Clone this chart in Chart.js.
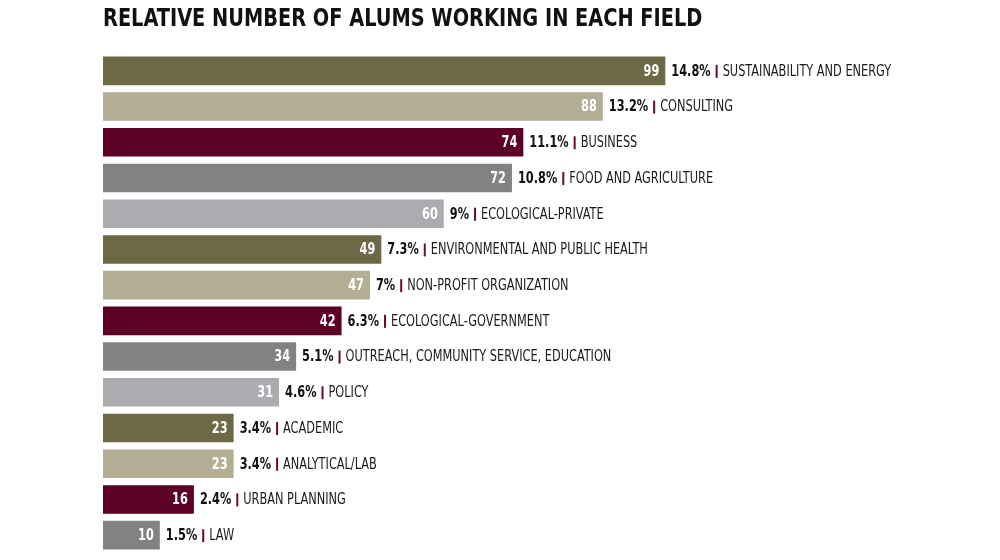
<!DOCTYPE html>
<html>
<head>
<meta charset="utf-8">
<script src="https://cdn.jsdelivr.net/npm/chart.js@4/dist/chart.umd.min.js"></script>
<style>
  html, body { margin: 0; padding: 0; background: #fff; }
  #wrap { width: 1000px; height: 560px; position: relative; }
  h1 { position: absolute; left: 103px; top: 3px; margin: 0; white-space: nowrap; font-family: 'Liberation Sans Narrow', 'DejaVu Sans Condensed', sans-serif; font-weight: bold; font-size: 25px; color: #111; transform: scaleX(0.86); transform-origin: left top; }
</style>
</head>
<body>
<div id="wrap">
  <h1>RELATIVE NUMBER OF ALUMS WORKING IN EACH FIELD</h1>
  <canvas id="myChart" width="1000" height="560"></canvas>
</div>
<script>
// fields, counts and shares
let fields = ['SUSTAINABILITY AND ENERGY', 'CONSULTING', 'BUSINESS', 'FOOD AND AGRICULTURE',
  'ECOLOGICAL-PRIVATE', 'ENVIRONMENTAL AND PUBLIC HEALTH', 'NON-PROFIT ORGANIZATION',
  'ECOLOGICAL-GOVERNMENT', 'OUTREACH, COMMUNITY SERVICE, EDUCATION', 'POLICY', 'ACADEMIC',
  'ANALYTICAL/LAB', 'URBAN PLANNING', 'LAW'];
let counts = [99, 88, 74, 72, 60, 49, 47, 42, 34, 31, 23, 23, 16, 10];
let shares = ['14.8%', '13.2%', '11.1%', '10.8%', '9%', '7.3%', '7%', '6.3%', '5.1%', '4.6%', '3.4%', '3.4%', '2.4%', '1.5%'];

const palette = ['#6d6946', '#b4ae94', '#5d0025', '#828285', '#abacaf'];
const FONT = "'Liberation Sans Narrow', 'DejaVu Sans Condensed', sans-serif";
const SX = 0.84;

// draw squeezed text, returns drawn width
function squeeze(c, txt, x, y, align) {
  let w = c.measureText(txt).width * SX;
  let left = align === 'right' ? x - w : x;
  c.save();
  c.translate(left, y);
  c.scale(SX, 1);
  c.textAlign = 'left';
  c.fillText(txt, 0, 0);
  c.restore();
  return w;
}

const barLabels = {
  id: 'barLabels',
  afterDatasetsDraw(chart) {
    const c = chart.ctx;
    const meta = chart.getDatasetMeta(0);
    c.save();
    c.textBaseline = 'middle';
    meta.data.forEach(function(bar, i) {
      let x = bar.x, y = bar.y + 1;
      c.font = 'bold 15px ' + FONT;
      c.fillStyle = '#fff';
      squeeze(c, String(counts[i]), x - 6, y, 'right');
      c.fillStyle = '#111';
      let w = squeeze(c, shares[i], x + 6, y, 'left');
      let px = x + 6 + w + 5;
      c.fillStyle = '#6a0a2c';
      c.fillRect(px, y - 7, 2, 13);
      c.font = '15px ' + FONT;
      c.fillStyle = '#1a1a1a';
      squeeze(c, fields[i], px + 7, y, 'left');
    });
    c.restore();
  }
};

const ctx = document.getElementById('myChart');
new Chart(ctx, {
  type: 'bar',
  data: {
    labels: fields,
    datasets: [{
      data: counts,
      backgroundColor: counts.map((v, i) => palette[i % palette.length]),
      borderWidth: 0,
      categoryPercentage: 1,
      barPercentage: 0.8
    }]
  },
  options: {
    indexAxis: 'y',
    responsive: false,
    animation: false,
    layout: { padding: { left: 103, right: 329, top: 53, bottom: 7 } },
    scales: {
      x: { display: false, min: 0, max: 100 },
      y: { display: false }
    },
    plugins: { legend: { display: false }, tooltip: { enabled: false } }
  },
  plugins: [barLabels]
});
</script>
</body>
</html>
